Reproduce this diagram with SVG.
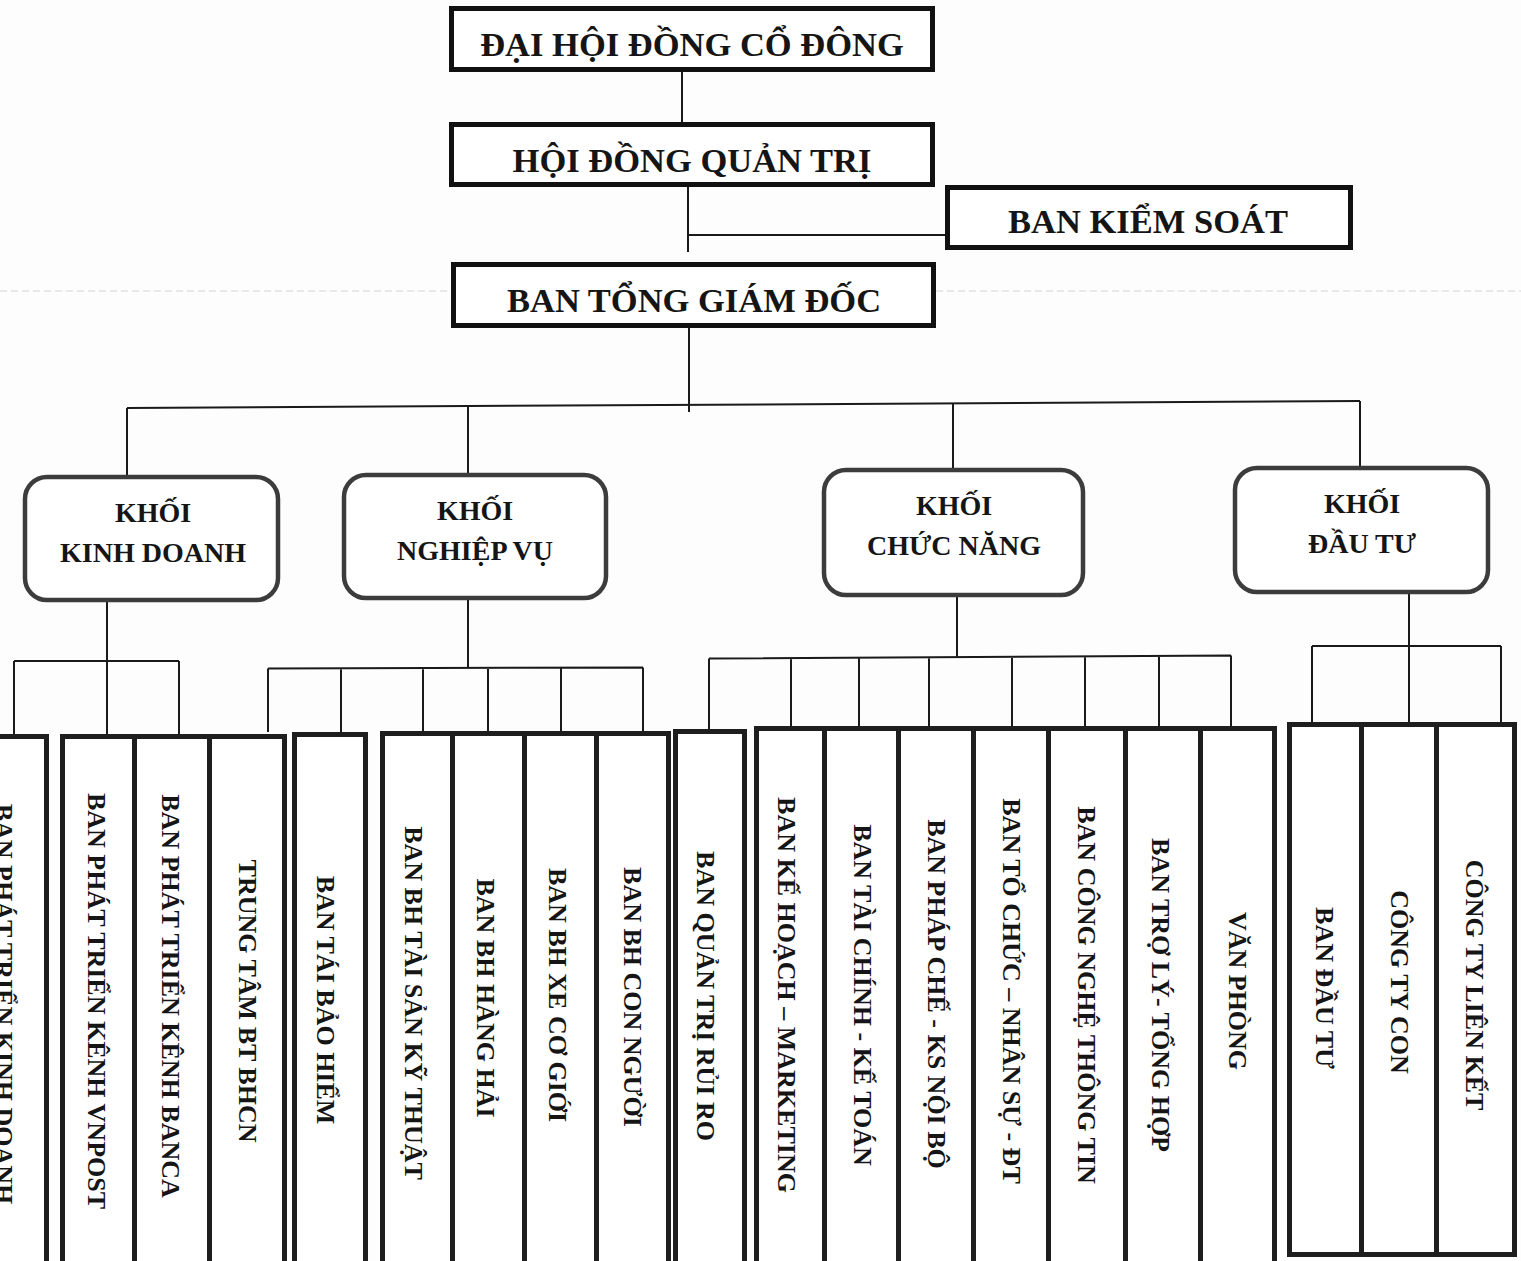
<svg xmlns="http://www.w3.org/2000/svg" width="1521" height="1261" viewBox="0 0 1521 1261">
<style>
.bg{fill:#fdfdfd}
.top{fill:#fff;stroke:#111;stroke-width:5}
.blk{fill:#fff;stroke:#3c3c3c;stroke-width:4.5}
.col{fill:#fff;stroke:#1e1e1e;stroke-width:5}
.ln{fill:none;stroke:#1a1a1a;stroke-width:2}
.scan{fill:none;stroke:#d4d4d4;stroke-width:1;stroke-dasharray:7 4}
text{font-family:"Liberation Serif","Times New Roman",serif;font-weight:bold;fill:#151515}
.tt{font-size:34.5px;text-anchor:middle}
.kt{font-size:28px;text-anchor:middle}
.vt{font-size:26px;text-anchor:middle;dominant-baseline:central}
</style>
<rect class="bg" x="0" y="0" width="1521" height="1261"/>
<path class="scan" d="M0 291 H450 M936 291 H1521"/>

<g id="connectors">
<path class="ln" d="M682 72 V122"/>
<path class="ln" d="M688 187 V252 M688 235 H945"/>
<path class="ln" d="M689 328 V412"/>
<path class="ln" d="M127 408 L1360 401"/>
<path class="ln" d="M127 408 V477 M468 406 V475 M953 403.3 V470 M1360 401 V468"/>
<path class="ln" d="M107 602 V661 M14 661 H179 M14 661 V734 M107 661 V734 M179 661 V734"/>
<path class="ln" d="M468 600 V668 M268 668.5 L643 667.5 M268 668.5 V732 M341 668 V732 M423 668 V731 M488 668 V731 M561 668 V731 M643 667.5 V731"/>
<path class="ln" d="M957 597 V657 M709 658.5 L1231 655.5 M709 658.5 V729 M791 658 V727 M859 657.5 V727 M929 657 V727 M1012 657 V727 M1085 656.5 V727 M1159 656 V727 M1231 655.5 V727"/>
<path class="ln" d="M1409 594 V646 M1312 646 H1501 M1312 646 V723 M1409 646 V723 M1501 646 V723"/>
</g>

<g id="dai-hoi-dong-co-dong">
<rect class="top" x="451.5" y="8.5" width="481" height="61"/>
<text class="tt" x="692" y="56">ĐẠI HỘI ĐỒNG CỔ ĐÔNG</text>
</g>
<g id="hoi-dong-quan-tri">
<rect class="top" x="451.5" y="124.5" width="481" height="60"/>
<text class="tt" x="692" y="172">HỘI ĐỒNG QUẢN TRỊ</text>
</g>
<g id="ban-kiem-soat">
<rect class="top" x="947.5" y="187.5" width="403" height="60"/>
<text class="tt" x="1148" y="233">BAN KIỂM SOÁT</text>
</g>
<g id="ban-tong-giam-doc">
<rect class="top" x="453.5" y="264.5" width="480" height="61"/>
<text class="tt" x="694" y="312">BAN TỔNG GIÁM ĐỐC</text>
</g>

<g id="khoi-kinh-doanh">
<rect class="blk" x="25" y="477" width="253" height="123" rx="22"/>
<text class="kt" x="153" y="522">KHỐI</text>
<text class="kt" x="153" y="562">KINH DOANH</text>
</g>
<g id="khoi-nghiep-vu">
<rect class="blk" x="344" y="475" width="262" height="123" rx="22"/>
<text class="kt" x="475" y="520">KHỐI</text>
<text class="kt" x="475" y="560">NGHIỆP VỤ</text>
</g>
<g id="khoi-chuc-nang">
<rect class="blk" x="824" y="470" width="259" height="125" rx="22"/>
<text class="kt" x="954" y="515">KHỐI</text>
<text class="kt" x="954" y="555">CHỨC NĂNG</text>
</g>
<g id="khoi-dau-tu">
<rect class="blk" x="1235" y="468" width="253" height="124" rx="22"/>
<text class="kt" x="1362" y="513">KHỐI</text>
<text class="kt" x="1362" y="553">ĐẦU TƯ</text>
</g>

<g id="ban-phat-trien-kinh-doanh">
<rect class="col" x="-37.5" y="736.5" width="84" height="600"/>
<text class="vt" transform="translate(3 1004) rotate(90)">BAN PHÁT TRIỂN KINH DOANH</text>
</g>
<g id="ban-phat-trien-kenh-vnpost">
<rect class="col" x="62.5" y="736.5" width="75" height="600"/>
<text class="vt" transform="translate(96 1001) rotate(90)">BAN PHÁT TRIỂN KÊNH VNPOST</text>
</g>
<g id="ban-phat-trien-kenh-banca">
<rect class="col" x="134.5" y="736.5" width="78" height="600"/>
<text class="vt" transform="translate(170 996) rotate(90)">BAN PHÁT TRIỂN KÊNH BANCA</text>
</g>
<g id="trung-tam-bt-bhcn">
<rect class="col" x="209.5" y="736.5" width="75" height="600"/>
<text class="vt" transform="translate(247 1001) rotate(90)">TRUNG TÂM BT BHCN</text>
</g>
<g id="ban-tai-bao-hiem">
<rect class="col" x="294.5" y="734.5" width="71" height="600"/>
<text class="vt" transform="translate(325 1000) rotate(90)">BAN TÁI BẢO HIỂM</text>
</g>
<g id="ban-bh-tai-san-ky-thuat">
<rect class="col" x="382.5" y="733.5" width="74" height="600"/>
<text class="vt" transform="translate(413 1003) rotate(90)">BAN BH TÀI SẢN KỸ THUẬT</text>
</g>
<g id="ban-bh-hang-hai">
<rect class="col" x="452.5" y="733.5" width="76" height="600"/>
<text class="vt" transform="translate(485 998) rotate(90)">BAN BH HÀNG HẢI</text>
</g>
<g id="ban-bh-xe-co-gioi">
<rect class="col" x="524.5" y="733.5" width="76" height="600"/>
<text class="vt" transform="translate(557 995) rotate(90)">BAN BH XE CƠ GIỚI</text>
</g>
<g id="ban-bh-con-nguoi">
<rect class="col" x="596.5" y="733.5" width="72" height="600"/>
<text class="vt" transform="translate(632 997) rotate(90)">BAN BH CON NGƯỜI</text>
</g>
<g id="ban-quan-tri-rui-ro">
<rect class="col" x="675.5" y="731.5" width="69" height="600"/>
<text class="vt" transform="translate(705 996) rotate(90)">BAN QUẢN TRỊ RỦI RO</text>
</g>
<g id="ban-ke-hoach-marketing">
<rect class="col" x="756.5" y="728.5" width="71" height="600"/>
<text class="vt" transform="translate(786 995) rotate(90)">BAN KẾ HOẠCH – MARKETING</text>
</g>
<g id="ban-tai-chinh-ke-toan">
<rect class="col" x="824.5" y="728.5" width="75" height="600"/>
<text class="vt" transform="translate(862 995) rotate(90)">BAN TÀI CHÍNH - KẾ TOÁN</text>
</g>
<g id="ban-phap-che">
<rect class="col" x="898.5" y="728.5" width="76" height="600"/>
<text class="vt" transform="translate(936 994) rotate(90)">BAN PHÁP CHẾ - KS NỘI BỘ</text>
</g>
<g id="ban-to-chuc-nhan-su">
<rect class="col" x="973.5" y="728.5" width="76" height="600"/>
<text class="vt" transform="translate(1011 991) rotate(90)">BAN TỔ CHỨC – NHÂN SỰ - ĐT</text>
</g>
<g id="ban-cong-nghe-thong-tin">
<rect class="col" x="1048.5" y="728.5" width="78" height="600"/>
<text class="vt" transform="translate(1086 995) rotate(90)">BAN CÔNG NGHỆ THÔNG TIN</text>
</g>
<g id="ban-tro-ly-tong-hop">
<rect class="col" x="1125.5" y="728.5" width="76" height="600"/>
<text class="vt" transform="translate(1160 995) rotate(90)">BAN TRỢ LÝ- TỔNG HỢP</text>
</g>
<g id="van-phong">
<rect class="col" x="1200.5" y="728.5" width="74" height="600"/>
<text class="vt" transform="translate(1237 991) rotate(90)">VĂN PHÒNG</text>
</g>
<g id="ban-dau-tu">
<rect class="col" x="1289.5" y="724.5" width="75" height="530"/>
<text class="vt" transform="translate(1324 988) rotate(90)">BAN ĐẦU TƯ</text>
</g>
<g id="cong-ty-con">
<rect class="col" x="1361.5" y="724.5" width="78" height="530"/>
<text class="vt" transform="translate(1399 982) rotate(90)">CÔNG TY CON</text>
</g>
<g id="cong-ty-lien-ket">
<rect class="col" x="1436.5" y="724.5" width="78" height="530"/>
<text class="vt" transform="translate(1474 985) rotate(90)">CÔNG TY LIÊN KẾT</text>
</g>
</svg>
